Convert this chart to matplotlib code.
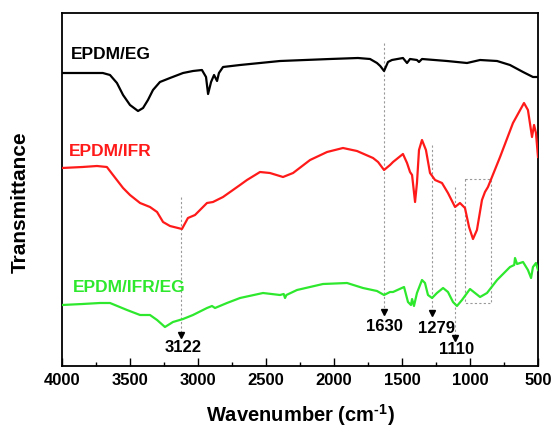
import matplotlib
matplotlib.use("Agg")
import matplotlib.pyplot as plt
import numpy as np

plt.rcParams["font.family"] = ["Liberation Sans", "DejaVu Sans"]
plt.rcParams["font.weight"] = "bold"
plt.rcParams["mathtext.fontset"] = "custom"
plt.rcParams["mathtext.rm"] = "Liberation Sans:bold"
plt.rcParams["mathtext.bf"] = "Liberation Sans:bold"

# Spectra: wavenumber (cm-1) and vertical position (a.u., larger = lower)
eg_wn = [4000, 3800, 3700, 3647, 3596, 3551, 3500, 3441, 3404, 3368, 3331, 3280, 3206, 3110,
         3037, 2971, 2941, 2926, 2904, 2882, 2860, 2846, 2816, 2691, 2397, 2029, 1824, 1735,
         1684, 1660, 1632, 1603, 1574, 1493, 1463, 1441, 1390, 1375, 1353, 1169, 1022, 926,
         801, 706, 610, 537, 500]
eg_y = [73, 73, 73, 75, 83, 95, 105, 111, 108, 100, 90, 82, 78, 73,
        71, 70, 77, 94, 82, 75, 81, 73, 67, 65, 61, 59, 58, 59,
        63, 66, 71, 62, 60, 58, 63, 59, 60, 62, 59, 61, 63, 60,
        61, 65, 72, 77, 77]

ifr_wn = [4000, 3850, 3743, 3670, 3625, 3551, 3500, 3426, 3353, 3301, 3257, 3206, 3118, 3074,
          3022, 2934, 2890, 2816, 2691, 2640, 2544, 2471, 2375, 2301, 2176, 2051, 1934, 1831,
          1713, 1676, 1632, 1588, 1566, 1493, 1463, 1441, 1426, 1404, 1390, 1375, 1353, 1324,
          1294, 1257, 1206, 1162, 1110, 1074, 1037, 1007, 978, 949, 912, 890, 868, 779, 684,
          603, 574, 544, 529, 515, 500]
ifr_y = [168, 167, 166, 167, 175, 188, 195, 203, 207, 212, 222, 226, 229, 218,
         215, 203, 202, 197, 185, 180, 172, 173, 177, 173, 160, 152, 148, 151,
         158, 162, 170, 165, 162, 154, 163, 172, 175, 202, 183, 150, 140, 150,
         173, 180, 183, 193, 207, 203, 208, 227, 239, 230, 200, 192, 187, 157, 123,
         103, 110, 137, 125, 133, 157]

ifr_eg_wn = [4000, 3850, 3721, 3647, 3522, 3426, 3353, 3301, 3243, 3184, 3110, 3037, 2934,
             2897, 2875, 2787, 2691, 2522, 2397, 2370, 2360, 2350, 2272, 2081, 1904, 1787,
             1684, 1632, 1588, 1566, 1485, 1456, 1434, 1426, 1412, 1390, 1353, 1331, 1309,
             1279, 1243, 1198, 1162, 1125, 1096, 1059, 1000, 926, 875, 801, 706, 675, 669,
             654, 610, 574, 551, 537, 515, 500]
ifr_eg_y = [305, 304, 303, 303, 310, 315, 315, 320, 327, 322, 319, 315, 308,
            306, 308, 303, 298, 293, 295, 294, 298, 295, 290, 284, 283, 288,
            291, 295, 292, 292, 287, 302, 305, 299, 306, 293, 280, 283, 295,
            298, 293, 288, 292, 302, 306, 300, 289, 297, 293, 280, 267, 265, 258,
            264, 262, 270, 278, 267, 263, 270]

names = ["EPDM/EG", "EPDM/IFR", "EPDM/IFR/EG"]
colors = ["black", "#ff1a1a", "#2ee82e"]
name_x = [3934, 3948, 3920]
name_y = [55, 152, 288]

# marked bands: wavenumber, line top, arrow position, label position
peaks = [3122, 1630, 1279, 1110]
peak_top = [197, 43, 145, 187]
peak_arrow = [335, 312, 313, 338]
peak_label_x = [3110, 1632, 1243, 1096]
peak_label_y = [348, 327, 329, 350]
box_wn = [1037, 846]
box_y = [179, 303]

fig = plt.figure(figsize=(5.52, 4.29), dpi=100)
ax = fig.add_axes([62 / 552, 1 - 366 / 429, 476 / 552, 353 / 429])

for wn, y, c in zip([eg_wn, ifr_wn, ifr_eg_wn], [eg_y, ifr_y, ifr_eg_y], colors):
    ax.plot(wn, y, color=c, lw=1.6, zorder=3, solid_joinstyle="round")

for name, c, x, y in zip(names, colors, name_x, name_y):
    ax.text(x, y, name, color=c, fontsize=12.5, fontweight="bold", ha="left", va="center")

dash = dict(color="#999999", lw=0.8, linestyle=(0, (2, 2)), zorder=1)
for wn, top, arr, lx, ly in zip(peaks, peak_top, peak_arrow, peak_label_x, peak_label_y):
    ax.plot([wn, wn], [top, arr], **dash)
    ax.plot(wn, arr, marker="v", color="black", markersize=4, zorder=4)
    ax.text(lx, ly, str(wn), fontsize=12, fontweight="bold", ha="center", va="center")

ax.plot([box_wn[0], box_wn[1], box_wn[1], box_wn[0], box_wn[0]],
        [box_y[0], box_y[0], box_y[1], box_y[1], box_y[0]], **dash)

ax.set_xlim(4000, 500)
ax.set_ylim(366, 13)
ax.set_xticks(np.arange(4000, 499, -500))
ax.set_xticks(np.arange(3750, 500, -500), minor=True)
ax.tick_params(axis="x", which="major", direction="in", length=6, width=1,
               labelsize=12, pad=5)
ax.tick_params(axis="x", which="minor", direction="in", length=3, width=1)
ax.set_yticks([])
for lab in ax.get_xticklabels():
    lab.set_fontweight("bold")
for s in ax.spines.values():
    s.set_linewidth(1.3)

fig.text(20 / 552, 1 - 202 / 429, "Transmittance", rotation=90, ha="center", va="center",
         fontsize=15, fontweight="bold")
fig.text(300 / 552, 1 - 415 / 429, r"Wavenumber (cm$^{\text{-1}}$)", ha="center",
         va="center", fontsize=14.5, fontweight="bold")

fig.savefig("out.png", dpi=100)
